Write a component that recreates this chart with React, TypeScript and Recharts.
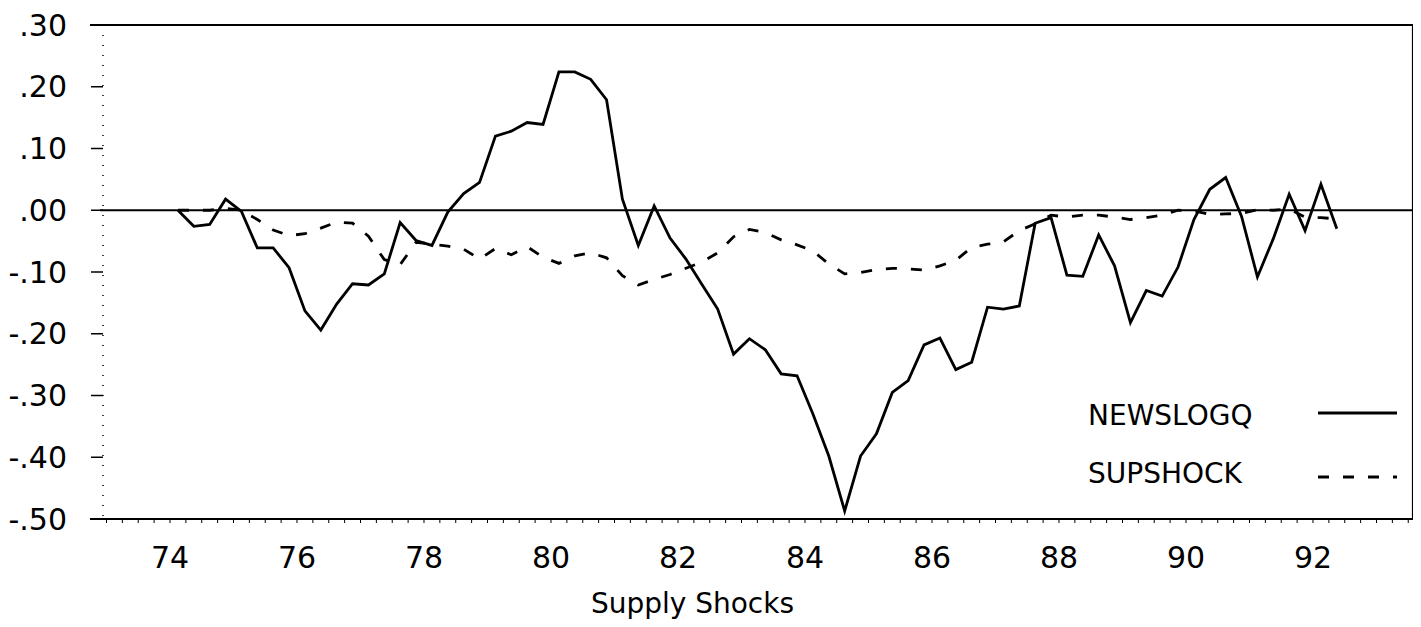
import React from 'react';
import { LineChart, Line, XAxis, YAxis, ReferenceLine } from 'recharts';

// quarterly, 1974Q1 .. 1992Q2
const NEWSLOGQ = [
  0.0, -0.026, -0.023, 0.018, -0.002, -0.061, -0.061, -0.093,
  -0.163, -0.194, -0.152, -0.119, -0.121, -0.103, -0.02, -0.049,
  -0.057, -0.003, 0.027, 0.045, 0.12, 0.128, 0.142, 0.139,
  0.224, 0.224, 0.212, 0.179, 0.018, -0.057, 0.007, -0.045,
  -0.079, -0.12, -0.16, -0.233, -0.208, -0.226, -0.265, -0.268,
  -0.33, -0.398, -0.487, -0.398, -0.362, -0.295, -0.276, -0.218,
  -0.207, -0.258, -0.246, -0.157, -0.16, -0.155, -0.021, -0.012,
  -0.105, -0.107, -0.04, -0.09, -0.182, -0.13, -0.139, -0.092,
  -0.015, 0.034, 0.053, -0.01, -0.108, -0.046, 0.026, -0.033,
  0.042, -0.03,
];

const SUPSHOCK = [
  0.0, 0.0, 0.0, 0.003, 0.0, -0.015, -0.032, -0.041,
  -0.038, -0.029, -0.019, -0.021, -0.042, -0.08, -0.088, -0.052,
  -0.055, -0.058, -0.063, -0.079, -0.062, -0.072, -0.059, -0.076,
  -0.086, -0.074, -0.069, -0.077, -0.106, -0.121, -0.112, -0.104,
  -0.094, -0.084, -0.069, -0.043, -0.031, -0.036, -0.048, -0.056,
  -0.066, -0.087, -0.103, -0.101, -0.096, -0.094, -0.095, -0.097,
  -0.09, -0.081, -0.06, -0.055, -0.051, -0.033, -0.022, -0.008,
  -0.011, -0.008, -0.008, -0.011, -0.015, -0.012, -0.008, 0.0,
  -0.001, -0.007, -0.006, -0.005, 0.001, 0.0, 0.002, -0.011,
  -0.012, -0.014,
];

const FIRST_YEAR = 74;
const QUARTERS = NEWSLOGQ.map((_, j) => `${FIRST_YEAR + Math.floor(j / 4)}Q${(j % 4) + 1}`);

const X_LABELS = [74, 76, 78, 80, 82, 84, 86, 88, 90, 92];
const Y_TICKS = [0.3, 0.2, 0.1, 0, -0.1, -0.2, -0.3, -0.4, -0.5];
const Y_LABELS = ['.30', '.20', '.10', '.00', '-.10', '-.20', '-.30', '-.40', '-.50'];

const X_MIN = 72.945;
const X_MAX = 93.575;
const FONT = '"DejaVu Sans", sans-serif';

// quarter label -> position on the year axis (middle of the quarter)
const qToX = (q: string) => {
  const [y, n] = q.split('Q');
  return Number(y) + (Number(n) - 1) / 4 + 0.125;
};

const data = QUARTERS.map((q, i) => ({
  x: qToX(q),
  NEWSLOGQ: NEWSLOGQ[i],
  SUPSHOCK: SUPSHOCK[i],
}));

const minorTicks: number[] = [];
for (let t = 73; t <= 93.5; t += 0.25) minorTicks.push(t);

const fmtX = (v: number) => (X_LABELS.includes(v) ? String(v) : '');
const fmtY = (v: number) => {
  const i = Y_TICKS.findIndex((t) => Math.abs(t - v) < 1e-6);
  return i >= 0 ? Y_LABELS[i] : '';
};

function LegendBox() {
  return (
    <svg width={330} height={110} style={{ display: 'block' }}>
      <text x={0} y={35} fontSize={28} fontFamily={FONT} fill="#000">NEWSLOGQ</text>
      <line x1={230} x2={309} y1={23} y2={23} stroke="#000" strokeWidth={2.8} />
      <text x={0} y={93} fontSize={28} fontFamily={FONT} fill="#000">SUPSHOCK</text>
      <line x1={230} x2={309} y1={87} y2={87} stroke="#000" strokeWidth={2.8} strokeDasharray="11 14" />
    </svg>
  );
}

export default function App() {
  return (
    <div style={{ fontFamily: FONT, background: '#fff', position: 'relative', width: 1410, height: 612 }}>
      <LineChart width={1410} height={612} data={data} margin={{ top: 17, right: 5, bottom: 0, left: 0 }}>
        <XAxis
          dataKey="x"
          type="number"
          domain={[X_MIN, X_MAX]}
          ticks={minorTicks}
          interval={0}
          tickFormatter={fmtX}
          tickSize={4}
          tickMargin={24}
          height={101}
          axisLine={false}
          tickLine={{ stroke: '#000', strokeWidth: 1 }}
          tick={{ fill: '#000', fontSize: 30, fontFamily: FONT }}
          allowDataOverflow
          label={(p: any) => {
            const vb = p.viewBox;
            return (
              <text x={vb.x + vb.width * 0.45} y={vb.y + 94} textAnchor="middle" fontSize={28} fontFamily={FONT} fill="#000">
                Supply Shocks
              </text>
            );
          }}
        />
        <YAxis
          type="number"
          domain={[-0.5, 0.3]}
          ticks={Y_TICKS}
          interval={0}
          tickFormatter={fmtY}
          width={95}
          tickSize={12}
          tickMargin={24}
          axisLine={{ stroke: '#000', strokeWidth: 1.5, strokeDasharray: '1 9' }}
          tickLine={{ stroke: '#000', strokeWidth: 1.5 }}
          tick={{ fill: '#000', fontSize: 30, fontFamily: FONT }}
          allowDataOverflow
        />
        <ReferenceLine
          segment={[{ x: 72.74, y: 0.3 }, { x: X_MAX, y: 0.3 }]}
          stroke="#000"
          strokeWidth={2.2}
          ifOverflow="visible"
        />
        <ReferenceLine
          segment={[{ x: 72.74, y: -0.5 }, { x: X_MAX, y: -0.5 }]}
          stroke="#000"
          strokeWidth={2.2}
          ifOverflow="visible"
        />
        <ReferenceLine
          segment={[{ x: 72.9, y: 0 }, { x: X_MAX, y: 0 }]}
          stroke="#000"
          strokeWidth={2.2}
          ifOverflow="visible"
        />
        <ReferenceLine x={X_MAX} stroke="#000" strokeWidth={2.2} ifOverflow="visible" />
        <Line
          dataKey="SUPSHOCK"
          type="linear"
          stroke="#000"
          strokeWidth={2.8}
          strokeDasharray="11 14"
          dot={false}
          isAnimationActive={false}
        />
        <Line
          dataKey="NEWSLOGQ"
          type="linear"
          stroke="#000"
          strokeWidth={2.8}
          dot={false}
          isAnimationActive={false}
        />
      </LineChart>
      <div style={{ position: 'absolute', left: 1080, top: 382 }}>
        <LegendBox />
      </div>
    </div>
  );
}
